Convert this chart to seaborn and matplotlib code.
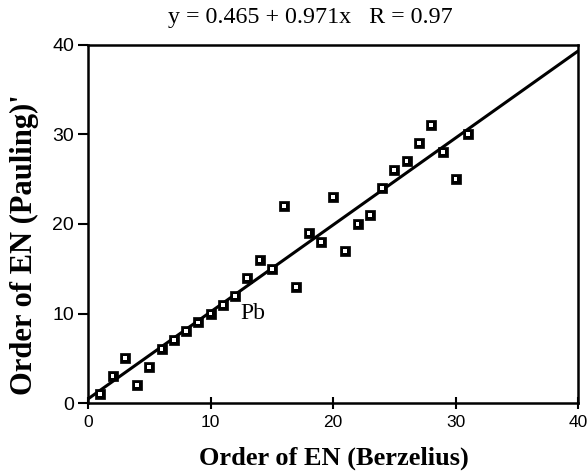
import numpy as np
import pandas as pd
import matplotlib
matplotlib.use("Agg")
import matplotlib.pyplot as plt
import seaborn as sns

berzelius = [1, 2, 3, 4, 5, 6, 7, 8, 9, 10, 11, 12, 13, 14, 15, 16, 17, 18, 19, 20,
             21, 22, 23, 24, 25, 26, 27, 28, 29, 30, 31]
pauling = [1, 3, 5, 2, 4, 6, 7, 8, 9, 10, 11, 12, 14, 16, 15, 22, 13, 19, 18, 23,
           17, 20, 21, 24, 26, 27, 29, 31, 28, 25, 30]
intercept = 0.465
slope = 0.971
fit_x = [0, 40]

data = pd.DataFrame({'Berzelius': berzelius, 'Pauling': pauling})
fit = pd.DataFrame({'x': fit_x, 'y': [intercept + slope * v for v in fit_x]})

sns.set_theme(style="ticks", rc={'text.color': 'black', 'axes.labelcolor': 'black',
                                 'xtick.color': 'black', 'ytick.color': 'black'})
serif = ['Liberation Serif', 'DejaVu Serif']
sans = ['Liberation Sans', 'DejaVu Sans']

fig = plt.figure(figsize=(5.88, 4.72), dpi=100)
ax = fig.add_axes([0.1497, 0.146, 0.8333, 0.759])

sns.lineplot(data=fit, x='x', y='y', color='black', linewidth=2.2, ax=ax)
# black square with a small white centre
sns.scatterplot(data=data, x='Berzelius', y='Pauling', marker='s', s=60,
                color='black', edgecolor='black', linewidth=0.5, ax=ax, zorder=3)
sns.scatterplot(data=data, x='Berzelius', y='Pauling', marker='s', s=8,
                color='white', edgecolor='none', linewidth=0, ax=ax, zorder=4)
ax.text(12.4, 10, 'Pb', family=serif, fontsize=17, va='center', ha='left')

ax.set_xlim(0, 40)
ax.set_ylim(0, 40)
ax.set_xticks([0, 10, 20, 30, 40])
ax.set_yticks([0, 10, 20, 30, 40])
ax.set_xlabel('')
ax.set_ylabel('')
for lab in ax.get_xticklabels() + ax.get_yticklabels():
    lab.set_family(sans)
ax.tick_params(axis='x', direction='inout', length=9, width=1.5, labelsize=12.5, pad=4)
ax.tick_params(axis='y', direction='out', length=7, width=1.5, labelsize=14, pad=3)
for sp in ax.spines.values():
    sp.set_linewidth(1.8)
    sp.set_color('black')

fig.text(0.527, 0.962, 'y = 0.465 + 0.971x   R = 0.97', family=serif, fontsize=17.3,
         ha='center', va='center')
fig.text(0.567, 0.028, 'Order of EN (Berzelius)', family=serif, fontsize=19,
         fontweight='bold', ha='center', va='center')
fig.text(0.041, 0.481, "Order of EN (Pauling)'", family=serif, fontsize=22,
         fontweight='bold', ha='center', va='center', rotation=90)

fig.savefig('out.png', dpi=100)
